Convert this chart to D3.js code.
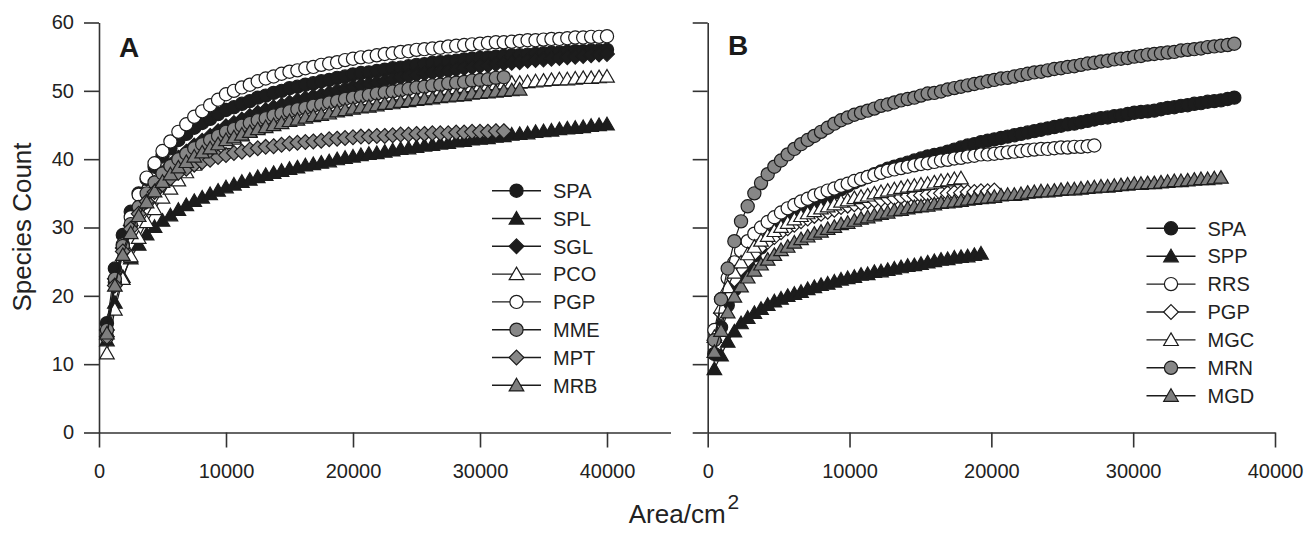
<!DOCTYPE html>
<html>
<head>
<meta charset="utf-8">
<script src="https://cdn.jsdelivr.net/npm/d3@7"></script>
<style>
  body { margin: 0; background: #fff; }
  svg { display: block; font-family: "Liberation Sans", Arial, sans-serif; }
</style>
</head>
<body>
<svg id="chart" width="1313" height="536"></svg>
<script>
// sampled area grows by a fixed step per point (cm2)
var stepA = 625;
var stepB = 470;

var xTicks = [0, 10000, 20000, 30000, 40000];
var yTicks = [0, 10, 20, 30, 40, 50, 60];

// ---- panel A ----
var namesA = ["SPA", "SPL", "SGL", "PCO", "PGP", "MME", "MPT", "MRB"];
var spaA = [16.0,24.0,28.9,32.3,35.0,37.1,38.9,40.4,41.6,42.8,43.7,44.6,45.3,45.9,46.6,47.2,47.6,48.1,48.5,49.0,49.3,49.7,50.0,50.4,50.6,50.9,51.1,51.4,51.6,51.9,52.1,52.4,52.6,52.7,52.9,53.1,53.3,53.4,53.6,53.8,53.9,54.1,54.2,54.3,54.4,54.6,54.7,54.8,54.9,55.0,55.1,55.2,55.2,55.3,55.4,55.5,55.6,55.6,55.7,55.8,55.8,55.9,55.9,56.0];
var splA = [13.5,19.0,22.8,25.5,27.5,29.0,30.1,31.0,31.8,32.6,33.3,33.9,34.4,34.9,35.4,35.9,36.3,36.7,37.0,37.4,37.7,38.0,38.3,38.6,38.8,39.1,39.3,39.5,39.7,40.0,40.2,40.4,40.6,40.8,40.9,41.1,41.3,41.5,41.6,41.8,42.0,42.1,42.3,42.4,42.6,42.7,42.9,43.0,43.1,43.3,43.4,43.6,43.7,43.8,44.0,44.1,44.2,44.4,44.5,44.6,44.7,44.9,45.0,45.1];
var sglA = [15.0,22.5,27.0,30.3,32.8,34.8,36.5,37.9,39.1,40.2,41.1,42.0,42.7,43.4,44.1,44.8,45.3,45.8,46.3,46.8,47.2,47.6,47.9,48.3,48.6,48.9,49.2,49.4,49.7,50.0,50.3,50.6,50.8,51.0,51.2,51.4,51.7,51.9,52.1,52.3,52.5,52.6,52.8,52.9,53.1,53.3,53.4,53.6,53.7,53.9,54.0,54.1,54.2,54.4,54.5,54.6,54.7,54.8,54.9,55.0,55.1,55.2,55.3,55.4];
var pcoA = [11.6,18.0,22.5,25.8,28.5,30.8,32.7,34.4,35.7,36.9,38.1,39.2,40.0,40.8,41.6,42.4,43.0,43.5,44.1,44.6,45.0,45.4,45.8,46.2,46.5,46.8,47.0,47.3,47.6,47.9,48.1,48.4,48.6,48.8,48.9,49.1,49.3,49.5,49.6,49.8,49.9,50.1,50.2,50.3,50.4,50.6,50.7,50.8,50.9,51.0,51.1,51.2,51.2,51.3,51.4,51.5,51.6,51.7,51.7,51.8,51.9,51.9,52.0,52.1];
var pgpA = [14.0,22.0,27.5,31.5,34.8,37.3,39.4,41.2,42.6,44.0,45.1,46.2,47.0,47.9,48.7,49.5,50.0,50.5,50.9,51.4,51.8,52.1,52.5,52.8,53.0,53.3,53.5,53.8,54.0,54.2,54.5,54.7,54.9,55.0,55.2,55.4,55.5,55.7,55.8,56.0,56.1,56.2,56.3,56.5,56.6,56.7,56.8,56.9,57.0,57.1,57.1,57.2,57.3,57.4,57.4,57.5,57.6,57.6,57.7,57.8,57.8,57.9,57.9,58.0];
var mmeA = [15.0,22.5,27.3,30.5,33.0,35.0,36.6,37.9,39.0,40.0,40.8,41.6,42.2,42.8,43.4,44.0,44.4,44.9,45.3,45.7,46.0,46.4,46.7,47.0,47.3,47.5,47.8,48.0,48.3,48.5,48.8,49.0,49.2,49.4,49.6,49.8,49.9,50.1,50.3,50.5,50.6,50.8,50.9,51.1,51.2,51.3,51.5,51.6,51.7,51.9,52.0];
var mptA = [14.0,21.5,26.5,29.8,32.0,33.8,35.2,36.3,37.2,38.0,38.6,39.2,39.6,39.9,40.3,40.6,40.9,41.1,41.4,41.6,41.8,41.9,42.1,42.3,42.4,42.5,42.6,42.7,42.9,43.0,43.1,43.2,43.3,43.3,43.4,43.4,43.5,43.6,43.6,43.7,43.7,43.8,43.8,43.8,43.9,43.9,44.0,44.0,44.0,44.1,44.1];
var mrbA = [14.5,21.5,26.0,29.2,31.7,33.7,35.3,36.7,37.8,38.8,39.6,40.4,41.0,41.6,42.2,42.8,43.2,43.6,44.0,44.4,44.7,45.0,45.3,45.6,45.8,46.1,46.3,46.5,46.7,47.0,47.2,47.4,47.6,47.7,47.9,48.1,48.2,48.4,48.5,48.7,48.8,48.9,49.1,49.2,49.3,49.4,49.6,49.7,49.8,49.9,50.0,50.1,50.2];

// ---- panel B ----
var namesB = ["SPA", "SPP", "RRS", "PGP", "MGC", "MRN", "MGD"];
var spaB = [11.5,15.4,18.6,20.9,22.9,24.5,25.9,27.1,28.2,29.1,29.9,30.7,31.5,32.2,32.8,33.4,34.0,34.5,35.1,35.6,36.1,36.6,37.0,37.4,37.8,38.2,38.6,38.9,39.2,39.5,39.8,40.1,40.4,40.6,40.8,41.1,41.4,41.7,42.0,42.2,42.5,42.7,42.9,43.1,43.3,43.5,43.7,43.9,44.1,44.3,44.5,44.7,44.9,45.1,45.2,45.4,45.6,45.8,46.0,46.1,46.3,46.4,46.6,46.8,46.9,47.0,47.1,47.3,47.5,47.6,47.8,47.9,48.1,48.2,48.4,48.5,48.6,48.8,49.0];
var sppB = [9.3,11.3,13.3,14.8,16.0,16.8,17.5,18.1,18.7,19.2,19.6,20.0,20.3,20.6,21.0,21.3,21.6,21.8,22.1,22.4,22.6,22.8,23.1,23.2,23.5,23.6,23.8,24.0,24.2,24.4,24.5,24.7,24.9,25.1,25.3,25.4,25.6,25.7,25.8,26.0,26.2];
var rrsB = [15.0,19.5,22.6,24.9,26.6,28.0,29.1,30.0,30.8,31.5,32.2,32.8,33.3,33.8,34.2,34.7,35.0,35.4,35.7,36.1,36.4,36.8,37.1,37.4,37.7,38.0,38.3,38.5,38.7,38.9,39.1,39.3,39.4,39.6,39.8,39.9,40.1,40.2,40.4,40.5,40.7,40.7,40.8,40.9,41.0,41.1,41.2,41.3,41.4,41.5,41.5,41.6,41.7,41.7,41.8,41.8,41.9,42.0];
var pgpB = [13.5,17.5,20.3,22.4,24.0,25.2,26.2,27.2,27.9,28.6,29.3,29.9,30.4,30.9,31.3,31.7,32.0,32.3,32.6,33.0,33.2,33.4,33.6,33.8,34.0,34.1,34.3,34.3,34.5,34.6,34.7,34.7,34.8,34.9,35.0,35.0,35.1,35.1,35.2,35.2,35.3,35.3,35.4];
var mgcB = [14.0,18.3,21.3,23.4,24.9,26.1,27.2,28.1,28.8,29.5,30.1,30.7,31.2,31.7,32.1,32.4,32.8,33.1,33.4,33.8,34.0,34.3,34.5,34.7,35.0,35.2,35.4,35.6,35.8,36.0,36.1,36.3,36.4,36.6,36.8,36.9,37.1,37.2];
var mrnB = [13.5,19.5,24.0,28.0,30.9,33.1,35.0,36.5,37.8,38.9,39.8,40.7,41.5,42.2,42.8,43.4,44.0,44.6,45.2,45.7,46.1,46.5,46.8,47.1,47.4,47.8,48.0,48.3,48.6,48.8,49.0,49.3,49.6,49.7,49.9,50.2,50.4,50.6,50.8,51.0,51.2,51.4,51.6,51.8,51.9,52.1,52.3,52.5,52.7,52.8,53.0,53.2,53.3,53.5,53.6,53.8,54.0,54.1,54.3,54.4,54.6,54.7,54.8,55.0,55.1,55.3,55.4,55.5,55.6,55.7,55.9,56.0,56.1,56.2,56.4,56.5,56.6,56.7,56.9];
var mgdB = [11.8,14.9,17.6,19.9,21.4,22.7,23.7,24.6,25.3,26.0,26.7,27.2,27.8,28.3,28.7,29.1,29.4,29.8,30.1,30.5,30.7,31.0,31.3,31.5,31.8,32.0,32.2,32.5,32.6,32.8,33.0,33.1,33.2,33.4,33.6,33.7,33.8,33.9,34.1,34.2,34.3,34.4,34.5,34.7,34.8,34.8,34.9,35.1,35.2,35.3,35.3,35.4,35.5,35.6,35.6,35.7,35.8,35.9,36.0,36.0,36.1,36.2,36.3,36.4,36.4,36.5,36.5,36.6,36.7,36.8,36.8,36.9,37.0,37.1,37.1,37.2,37.3];

var ink = "#1c1c1c", grey = "#878787";

var svg = d3.select("#chart");
var y = d3.scaleLinear().domain([0, 60]).range([432.5, 22.5]);

function markerPath(shape) {
    if (shape == "circle") return d3.symbol(d3.symbolCircle, Math.PI * 6.6 * 6.6)();
    if (shape == "triangle") return "M0,-7L7.3,5.6L-7.3,5.6Z";
    return "M0,-7.4L7.4,0L0,7.4L-7.4,0Z";
}

function drawPanel(p) {
    var x = d3.scaleLinear().domain([0, p.xMax]).range([p.left, p.right]);
    var g = svg.append("g");

    var yAxis = d3.axisLeft(y).tickValues(yTicks).tickSize(15).tickSizeOuter(0).tickPadding(10);
    if (!p.yLabels) yAxis.tickFormat("");
    var ya = g.append("g").attr("transform", "translate(" + p.left + ",0)").call(yAxis);

    var xa = g.append("g").attr("transform", "translate(0," + y(0) + ")")
        .call(d3.axisBottom(x).tickValues(xTicks).tickFormat(d3.format("d"))
            .tickSize(15).tickSizeOuter(0).tickPadding(16));

    [ya, xa].forEach(function(a){
        a.select(".domain").attr("stroke", "#333").attr("stroke-width", 1.6);
        a.selectAll(".tick line").attr("stroke", "#333").attr("stroke-width", 1.6);
        a.selectAll(".tick text").attr("fill", "#222").style("font-size", "20px")
            .style("font-family", "'Liberation Sans', Arial, sans-serif");
    });

    var line = d3.line()
        .x(function(d, i){ return x((i + 1) * p.step); })
        .y(function(d){ return y(d); });

    p.series.forEach(function(s){
        var sg = g.append("g");
        sg.append("path").datum(s.values)
            .attr("d", line).attr("fill", "none")
            .attr("stroke", ink).attr("stroke-width", 1.2);
        sg.selectAll("path.pt").data(s.values).enter()
            .append("path").attr("class", "pt")
            .attr("transform", function(d, i){
                return "translate(" + x((i + 1) * p.step) + "," + y(d) + ")";
            })
            .attr("d", markerPath(s.shape))
            .attr("fill", s.fill).attr("stroke", ink).attr("stroke-width", 1.2);
    });

    // legend
    var lg = g.append("g").attr("transform", "translate(" + p.legX + "," + p.legY + ")");
    p.series.forEach(function(s, k){
        var row = lg.append("g").attr("transform", "translate(0," + (k * p.legGap) + ")");
        row.append("line").attr("x1", 0).attr("x2", 49).attr("y1", 0).attr("y2", 0)
            .attr("stroke", ink).attr("stroke-width", 1.4);
        row.append("path").attr("transform", "translate(24.5,0)")
            .attr("d", markerPath(s.shape))
            .attr("fill", s.fill).attr("stroke", ink).attr("stroke-width", 1.2);
        row.append("text").attr("x", 61).attr("dy", "0.36em")
            .attr("fill", "#222").style("font-size", "20px").text(s.name);
    });

    g.append("text").attr("x", p.letterX).attr("y", p.letterY)
        .style("font-size", "28px").style("font-weight", "bold")
        .attr("fill", "#1a1a1a").text(p.letter);
}

var stylesA = {
    SPA: ["circle", ink], SPL: ["triangle", ink], SGL: ["diamond", ink], PCO: ["triangle", "#fff"],
    PGP: ["circle", "#fff"], MME: ["circle", grey], MPT: ["diamond", grey], MRB: ["triangle", "#7e7e7e"]
};
var stylesB = {
    SPA: ["circle", ink], SPP: ["triangle", ink], RRS: ["circle", "#fff"], PGP: ["diamond", "#fff"],
    MGC: ["triangle", "#fff"], MRN: ["circle", grey], MGD: ["triangle", "#7e7e7e"]
};

var valuesA = [spaA, splA, sglA, pcoA, pgpA, mmeA, mptA, mrbA];
var valuesB = [spaB, sppB, rrsB, pgpB, mgcB, mrnB, mgdB];

drawPanel({
    left: 99, right: 670.5, xMax: 45000, step: stepA, yLabels: true,
    series: namesA.map(function(n, i){ return {name: n, values: valuesA[i], shape: stylesA[n][0], fill: stylesA[n][1]}; }),
    legX: 492, legY: 190.7, legGap: 27.8,
    letter: "A", letterX: 119, letterY: 57
});

drawPanel({
    left: 707.7, right: 1275, xMax: 40000, step: stepB, yLabels: false,
    series: namesB.map(function(n, i){ return {name: n, values: valuesB[i], shape: stylesB[n][0], fill: stylesB[n][1]}; }),
    legX: 1146.5, legY: 228.3, legGap: 27.9,
    letter: "B", letterX: 728, letterY: 55
});

// axis titles
svg.append("text")
    .attr("transform", "translate(31,227) rotate(-90)")
    .attr("text-anchor", "middle").attr("fill", "#222")
    .style("font-size", "26px").text("Species Count");

var xt = svg.append("text").attr("x", 684).attr("y", 523)
    .attr("text-anchor", "middle").attr("fill", "#222").style("font-size", "26px");
xt.append("tspan").text("Area/cm");
xt.append("tspan").attr("dy", -14).attr("dx", 2).style("font-size", "21px").text("2");
</script>
</body>
</html>
